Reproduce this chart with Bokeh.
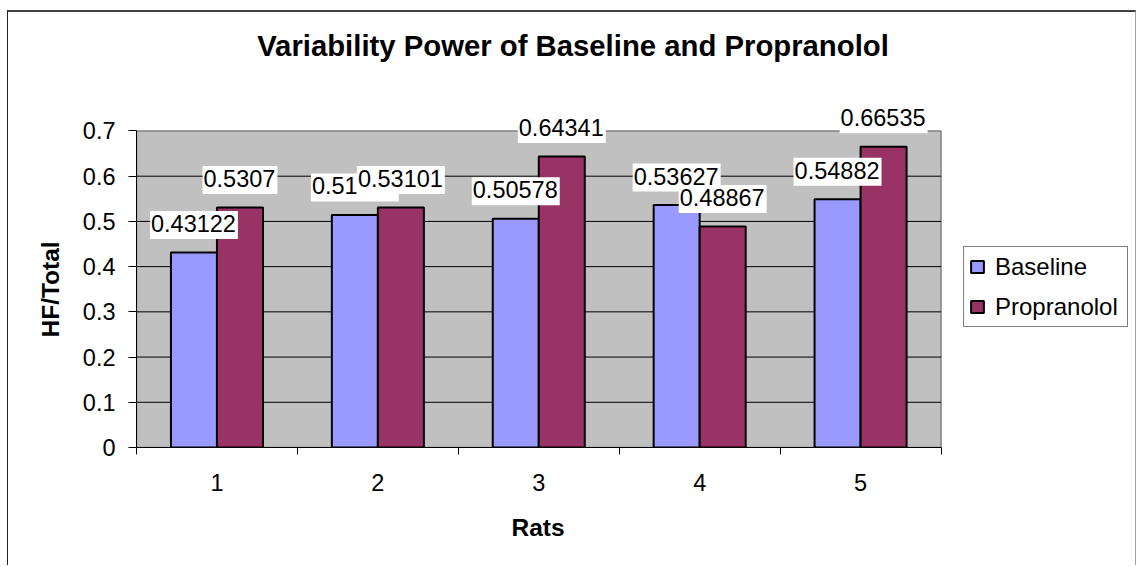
from bokeh.plotting import figure
from bokeh.models import Range1d, FixedTicker, Label, Legend, LegendItem, Title
from bokeh.embed import file_html
from bokeh.resources import INLINE

# Data: HF/Total variability power per rat
rats = [1, 2, 3, 4, 5]
x_tick_labels = ["1", "2", "3", "4", "5"]
baseline = [0.43122, 0.51436, 0.50578, 0.53627, 0.54882]
propranolol = [0.5307, 0.53101, 0.64341, 0.48867, 0.66535]
series_names = ["Baseline", "Propranolol"]
y_ticks = [0, 0.1, 0.2, 0.3, 0.4, 0.5, 0.6, 0.7]
y_tick_labels = ["0", "0.1", "0.2", "0.3", "0.4", "0.5", "0.6", "0.7"]

FONT = "Liberation Sans"
BASE_COLOR = "#9999FF"
PROP_COLOR = "#993366"
AREA_COLOR = "#C0C0C0"
BAR_W = 0.286
X_LO, X_HI = 0.5, 5.5
Y_LO, Y_HI = 0.0, 0.7

# The frame runs to the top and right edges of the canvas so that the title,
# the legend and the labels of the tallest bars are drawn without clipping;
# the grey plotting area itself covers only X_LO..X_HI by Y_LO..Y_HI.
p = figure(
    width=1129, height=555,
    x_range=Range1d(X_LO, 6.721), y_range=Range1d(Y_LO, 0.962),
    output_backend="svg", toolbar_location=None,
    min_border_left=128, min_border_right=0,
    min_border_top=0, min_border_bottom=120,
)
p.margin = (10, 0, 0, 7)
p.styles = {
    "border-top": "2px solid #404040",
    "border-left": "1px solid #202020",
    "border-right": "1px solid #a0a0a0",
}
p.background_fill_color = "white"
p.border_fill_color = "white"
p.outline_line_color = None

# grey plotting area with its grey top/right border
p.quad(left=[X_LO], right=[X_HI], bottom=[Y_LO], top=[Y_HI],
       fill_color=AREA_COLOR, line_color="#808080", line_width=1.5)

# horizontal gridlines
grid_y = y_ticks[1:-1]
p.segment(x0=[X_LO] * len(grid_y), x1=[X_HI] * len(grid_y), y0=grid_y, y1=grid_y,
          line_color="black", line_width=1)

# bars
base_x = [r - BAR_W / 2 for r in rats]
prop_x = [r + BAR_W / 2 for r in rats]
r_base = p.vbar(x=base_x, top=baseline, width=BAR_W, fill_color=BASE_COLOR,
                line_color="black", line_width=2)
r_prop = p.vbar(x=prop_x, top=propranolol, width=BAR_W, fill_color=PROP_COLOR,
                line_color="black", line_width=2)

# x axis: labels at the rats, tick marks between groups
xa = p.xaxis[0]
xa.bounds = (X_LO, X_HI)
xa.ticker = FixedTicker(ticks=rats, minor_ticks=[r - 0.5 for r in rats] + [rats[-1] + 0.5])
xa.major_label_overrides = dict(zip(rats, x_tick_labels))
xa.major_tick_line_color = None
xa.major_tick_out = 7
xa.major_tick_in = 0
xa.minor_tick_out = 7
xa.minor_tick_in = 0
xa.minor_tick_line_color = "black"
xa.axis_line_color = "black"
xa.major_label_standoff = 19
xa.major_label_text_font = FONT
xa.major_label_text_font_size = "23.5px"
xa.major_label_text_color = "black"

ya = p.yaxis[0]
ya.bounds = (Y_LO, Y_HI)
ya.ticker = FixedTicker(ticks=y_ticks, minor_ticks=[])
ya.major_label_overrides = dict(zip(y_ticks, y_tick_labels))
ya.major_tick_out = 8
ya.major_tick_in = 0
ya.major_tick_line_color = "black"
ya.minor_tick_line_color = None
ya.axis_line_color = "black"
ya.major_label_standoff = 13
ya.major_label_text_font = FONT
ya.major_label_text_font_size = "23.5px"
ya.major_label_text_color = "black"

p.xgrid.visible = False
p.ygrid.visible = False

# axis titles, placed under / beside the grey area rather than the whole frame
p.add_layout(Title(text="Rats", align="left", offset=375, standoff=36,
                   text_font=FONT, text_font_size="24.5px", text_font_style="bold",
                   text_color="black"), "below")
p.add_layout(Title(text="HF/Total", align="left", offset=110, standoff=32,
                   text_font=FONT, text_font_size="24.5px", text_font_style="bold",
                   text_color="black"), "left")

# chart title
p.add_layout(Label(
    x=436.5, y=402, x_units="screen", y_units="screen",
    text="Variability Power of Baseline and Propranolol",
    text_align="center", text_baseline="middle",
    text_font=FONT, text_font_size="29.3px", text_font_style="bold",
    text_color="black",
))

# value labels above each bar
for xs, vals in ((base_x, baseline), (prop_x, propranolol)):
    for x, v in zip(xs, vals):
        p.add_layout(Label(
            x=x, y=v, text=f"{v:g}", y_offset=27.5,
            text_align="center", text_baseline="middle",
            text_font=FONT, text_font_size="23.5px", text_color="black",
            background_fill_color="white",
            padding=dict(left=1, right=2, top=4, bottom=7),
        ))

legend = Legend(
    items=[LegendItem(label=series_names[0], renderers=[r_base]),
           LegendItem(label=series_names[1], renderers=[r_prop])],
    location=(827, 120),
    border_line_color="black", border_line_width=1,
    background_fill_color="white",
    glyph_width=16, glyph_height=15,
    label_text_font=FONT, label_text_font_size="24px", label_text_color="black",
    label_height=29, label_width=127, label_standoff=10,
    spacing=11, padding=5,
)
p.add_layout(legend)

open("out.html", "w").write(file_html(p, INLINE))
